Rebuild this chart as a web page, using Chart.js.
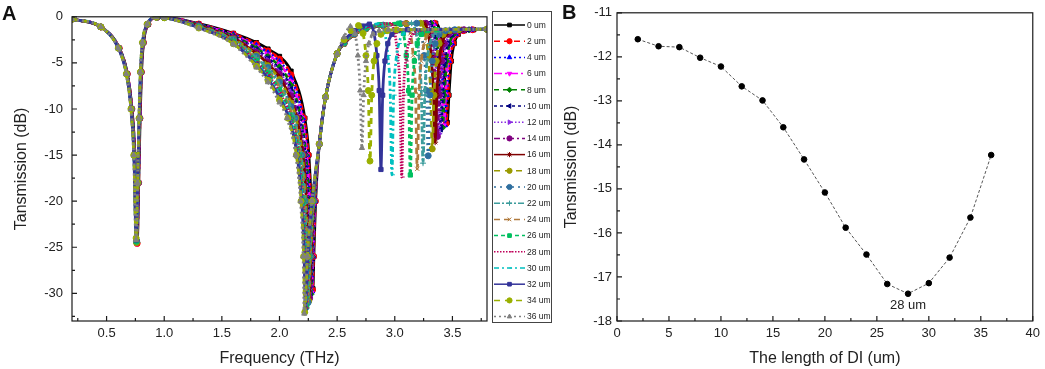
<!DOCTYPE html>
<html>
<head>
<meta charset="utf-8">
<script src="https://cdn.jsdelivr.net/npm/chart.js@4/dist/chart.umd.min.js"></script>
<style>
  html, body { margin: 0; padding: 0; background: #fff; }
  #wrap { position: relative; width: 1045px; height: 369px; overflow: hidden; }
  #boxA { position: absolute; left: 0; top: 0; }
  #boxB { position: absolute; left: 556px; top: 0; }
</style>
</head>
<body>
<div id="wrap">
  <div id="boxA"><canvas id="chartA" width="556" height="369"></canvas></div>
  <div id="boxB"><canvas id="chartB" width="489" height="369"></canvas></div>
</div>
<script>
// ── Panel A: transmission spectra, one curve per DI length ────
// each curve is [frequency THz, transmission dB]
const LENGTHS_UM = [0, 2, 4, 6, 8, 10, 12, 14, 16, 18, 20, 22, 24, 26, 28, 30, 32, 34, 36];

const um0 = [[0.2,-0.25],[0.45,-1.1],[0.611,-3.4],[0.681,-6.2],[0.721,-10],[0.746,-15],[0.766,-24.4],[0.779,-18],[0.791,-11],[0.803,-6],[0.821,-2.8],[0.861,-0.8],[0.941,-0.05],
  [1.0,-0.05],[1.3,-0.75],[1.6,-1.8],[1.8,-2.8],[1.9,-3.5],[2.0,-4.3],[2.1,-5.9],[2.22,-11],[2.255,-15],[2.274,-20],[2.285,-26],[2.29,-29.5],[2.298,-26],[2.313,-20],[2.345,-13.8],[2.4,-8.7],[2.5,-4.0],
  [2.56,-2.9],[2.65,-1.9],[2.75,-1.3],[2.9,-0.95],[3.1,-0.75],[3.355,-0.7],
  [3.395,-1.8],[3.42,-4.2],[3.44,-8],[3.455,-11.45],[3.47,-8.5],[3.49,-4.8],[3.515,-2.9],[3.55,-1.9],[3.605,-1.5],[3.685,-1.4],[3.8,-1.35]];
const um2 = [[0.2,-0.25],[0.45,-1.1],[0.61,-3.4],[0.68,-6.2],[0.72,-10],[0.745,-15],[0.765,-24.6],[0.778,-18],[0.79,-11],[0.802,-6],[0.82,-2.8],[0.86,-0.8],[0.94,-0.05],
  [1.0,-0.06],[1.3,-0.78],[1.6,-1.87],[1.8,-2.95],[1.9,-3.7],[2.0,-4.58],[2.1,-6.29],[2.211,-11],[2.249,-15],[2.269,-20],[2.281,-26],[2.286,-29.65],[2.295,-26],[2.311,-20],[2.345,-13.8],[2.4,-8.7],[2.5,-4.0],
  [2.56,-2.9],[2.65,-1.9],[2.75,-1.3],[2.9,-0.95],[3.1,-0.75],[3.345,-0.7],
  [3.385,-1.8],[3.41,-4.2],[3.43,-8],[3.445,-11.6],[3.46,-8.5],[3.48,-4.8],[3.505,-2.9],[3.54,-1.9],[3.595,-1.5],[3.675,-1.4],[3.8,-1.35]];
const um4 = [[0.2,-0.25],[0.45,-1.1],[0.609,-3.4],[0.679,-6.2],[0.719,-10],[0.744,-15],[0.764,-24.3],[0.777,-18],[0.789,-11],[0.801,-6],[0.819,-2.8],[0.859,-0.8],[0.939,-0.05],
  [1.0,-0.06],[1.3,-0.81],[1.6,-1.93],[1.8,-3.1],[1.9,-3.9],[2.0,-4.86],[2.1,-6.67],[2.203,-11],[2.242,-15],[2.264,-20],[2.276,-26],[2.282,-29.8],[2.292,-26],[2.309,-20],[2.345,-13.8],[2.4,-8.7],[2.5,-4.0],
  [2.56,-2.9],[2.65,-1.9],[2.75,-1.3],[2.9,-0.95],[3.1,-0.75],[3.335,-0.7],
  [3.375,-1.8],[3.4,-4.2],[3.42,-8],[3.435,-11.76],[3.45,-8.5],[3.47,-4.8],[3.495,-2.9],[3.53,-1.9],[3.585,-1.5],[3.665,-1.4],[3.8,-1.35]];
const um6 = [[0.2,-0.25],[0.45,-1.1],[0.608,-3.4],[0.678,-6.2],[0.718,-10],[0.743,-15],[0.763,-24.6],[0.776,-18],[0.788,-11],[0.8,-6],[0.818,-2.8],[0.858,-0.8],[0.938,-0.05],
  [1.0,-0.07],[1.3,-0.83],[1.6,-2.0],[1.8,-3.25],[1.9,-4.1],[2.0,-5.14],[2.1,-7.05],[2.194,-11],[2.236,-15],[2.259,-20],[2.272,-26],[2.277,-29.95],[2.288,-26],[2.307,-20],[2.345,-13.8],[2.4,-8.7],[2.5,-4.0],
  [2.56,-2.9],[2.65,-1.9],[2.75,-1.3],[2.9,-0.95],[3.1,-0.75],[3.325,-0.7],
  [3.365,-1.8],[3.39,-4.2],[3.41,-8],[3.425,-11.78],[3.44,-8.5],[3.46,-4.8],[3.485,-2.9],[3.52,-1.9],[3.575,-1.5],[3.655,-1.4],[3.8,-1.35]];
const um8 = [[0.2,-0.25],[0.45,-1.1],[0.608,-3.4],[0.678,-6.2],[0.718,-10],[0.743,-15],[0.763,-24.5],[0.776,-18],[0.788,-11],[0.8,-6],[0.818,-2.8],[0.858,-0.8],[0.938,-0.05],
  [1.0,-0.07],[1.3,-0.86],[1.6,-2.07],[1.8,-3.4],[1.9,-4.3],[2.0,-5.41],[2.1,-7.43],[2.186,-11],[2.229,-15],[2.254,-20],[2.267,-26],[2.273,-30.1],[2.285,-26],[2.306,-20],[2.345,-13.8],[2.4,-8.7],[2.5,-4.0],
  [2.56,-2.9],[2.65,-1.9],[2.75,-1.3],[2.9,-0.95],[3.1,-0.75],[3.315,-0.7],
  [3.355,-1.8],[3.38,-4.2],[3.4,-8],[3.415,-12.02],[3.43,-8.5],[3.45,-4.8],[3.475,-2.9],[3.51,-1.9],[3.565,-1.5],[3.645,-1.4],[3.8,-1.35]];
const um10 = [[0.2,-0.25],[0.45,-1.1],[0.607,-3.4],[0.677,-6.2],[0.717,-10],[0.742,-15],[0.762,-24.3],[0.775,-18],[0.787,-11],[0.799,-6],[0.817,-2.8],[0.857,-0.8],[0.937,-0.05],
  [1.0,-0.07],[1.3,-0.89],[1.6,-2.13],[1.8,-3.55],[1.9,-4.5],[2.0,-5.69],[2.1,-7.82],[2.177,-11],[2.223,-15],[2.248,-20],[2.263,-26],[2.269,-30.25],[2.282,-26],[2.304,-20],[2.345,-13.8],[2.4,-8.7],[2.5,-4.0],
  [2.56,-2.9],[2.65,-1.9],[2.75,-1.3],[2.9,-0.95],[3.1,-0.75],[3.3,-0.7],
  [3.34,-1.8],[3.365,-4.2],[3.385,-8],[3.4,-12.22],[3.415,-8.5],[3.435,-4.8],[3.46,-2.9],[3.495,-1.9],[3.55,-1.5],[3.63,-1.4],[3.8,-1.35]];
const um12 = [[0.2,-0.25],[0.45,-1.1],[0.607,-3.4],[0.677,-6.2],[0.717,-10],[0.742,-15],[0.762,-24.5],[0.775,-18],[0.787,-11],[0.799,-6],[0.817,-2.8],[0.857,-0.8],[0.937,-0.05],
  [1.0,-0.08],[1.3,-0.92],[1.6,-2.2],[1.8,-3.7],[1.9,-4.7],[2.0,-5.97],[2.1,-8.2],[2.168,-11],[2.217,-15],[2.243,-20],[2.258,-26],[2.265,-30.4],[2.279,-26],[2.302,-20],[2.345,-13.8],[2.4,-8.7],[2.5,-4.0],
  [2.56,-2.9],[2.65,-1.9],[2.75,-1.3],[2.9,-0.95],[3.1,-0.75],[3.285,-0.7],
  [3.325,-1.8],[3.35,-4.2],[3.37,-8],[3.385,-12.67],[3.4,-8.5],[3.42,-4.8],[3.445,-2.9],[3.48,-1.9],[3.535,-1.5],[3.615,-1.4],[3.8,-1.35]];
const um14 = [[0.2,-0.25],[0.45,-1.1],[0.606,-3.4],[0.676,-6.2],[0.716,-10],[0.741,-15],[0.761,-24.4],[0.774,-18],[0.786,-11],[0.798,-6],[0.816,-2.8],[0.856,-0.8],[0.936,-0.05],
  [1.0,-0.08],[1.3,-0.94],[1.6,-2.27],[1.8,-3.85],[1.9,-4.9],[2.0,-6.24],[2.1,-8.58],[2.16,-11],[2.21,-15],[2.238,-20],[2.254,-26],[2.261,-30.55],[2.275,-26],[2.3,-20],[2.345,-13.8],[2.4,-8.7],[2.5,-4.0],
  [2.56,-2.9],[2.65,-1.9],[2.75,-1.3],[2.9,-0.95],[3.1,-0.75],[3.27,-0.7],
  [3.31,-1.8],[3.335,-4.2],[3.355,-8],[3.37,-12.99],[3.385,-8.5],[3.405,-4.8],[3.43,-2.9],[3.465,-1.9],[3.52,-1.5],[3.6,-1.4],[3.8,-1.35]];
const um16 = [[0.2,-0.25],[0.45,-1.1],[0.606,-3.4],[0.676,-6.2],[0.716,-10],[0.741,-15],[0.761,-24.2],[0.774,-18],[0.786,-11],[0.798,-6],[0.816,-2.8],[0.856,-0.8],[0.936,-0.05],
  [1.0,-0.08],[1.3,-0.97],[1.6,-2.33],[1.8,-4.0],[1.9,-5.1],[2.0,-6.52],[2.1,-8.97],[2.151,-11],[2.204,-15],[2.233,-20],[2.249,-26],[2.257,-30.7],[2.272,-26],[2.298,-20],[2.345,-13.8],[2.4,-8.7],[2.5,-4.0],
  [2.56,-2.9],[2.65,-1.9],[2.75,-1.3],[2.9,-0.95],[3.1,-0.75],[3.25,-0.7],
  [3.29,-1.8],[3.315,-4.2],[3.335,-8],[3.35,-13.6],[3.365,-8.5],[3.385,-4.8],[3.41,-2.9],[3.445,-1.9],[3.5,-1.5],[3.58,-1.4],[3.8,-1.35]];
const um18 = [[0.2,-0.25],[0.45,-1.1],[0.605,-3.4],[0.675,-6.2],[0.715,-10],[0.74,-15],[0.76,-24.5],[0.773,-18],[0.785,-11],[0.797,-6],[0.815,-2.8],[0.855,-0.8],[0.935,-0.05],
  [1.0,-0.09],[1.3,-1.0],[1.6,-2.4],[1.8,-4.15],[1.9,-5.3],[2.0,-6.8],[2.1,-9.35],[2.143,-11],[2.198,-15],[2.228,-20],[2.245,-26],[2.253,-30.85],[2.269,-26],[2.297,-20],[2.345,-13.8],[2.4,-8.7],[2.5,-4.0],
  [2.56,-2.9],[2.65,-1.9],[2.75,-1.3],[2.9,-0.95],[3.1,-0.75],[3.225,-0.7],
  [3.265,-1.8],[3.29,-4.2],[3.31,-8],[3.325,-14.33],[3.34,-8.5],[3.36,-4.8],[3.385,-2.9],[3.42,-1.9],[3.475,-1.5],[3.555,-1.4],[3.8,-1.35]];
const um20 = [[0.2,-0.25],[0.45,-1.1],[0.605,-3.4],[0.675,-6.2],[0.715,-10],[0.74,-15],[0.76,-24.3],[0.773,-18],[0.785,-11],[0.797,-6],[0.815,-2.8],[0.855,-0.8],[0.935,-0.05],
  [1.0,-0.09],[1.3,-1.03],[1.6,-2.47],[1.8,-4.3],[1.9,-5.5],[2.0,-7.08],[2.1,-9.74],[2.134,-11],[2.191,-15],[2.223,-20],[2.241,-26],[2.248,-31.0],[2.266,-26],[2.295,-20],[2.345,-13.8],[2.4,-8.7],[2.5,-4.0],
  [2.56,-2.85],[2.65,-1.85],[2.75,-1.25],[2.9,-0.9],[3.05,-0.75],[3.19,-0.7],
  [3.23,-1.8],[3.255,-4.2],[3.275,-8],[3.29,-15.08],[3.305,-8.5],[3.325,-4.8],[3.35,-2.9],[3.385,-1.9],[3.44,-1.5],[3.52,-1.4],[3.8,-1.35]];
const um22 = [[0.2,-0.25],[0.45,-1.1],[0.604,-3.4],[0.674,-6.2],[0.714,-10],[0.739,-15],[0.759,-24.4],[0.772,-18],[0.784,-11],[0.796,-6],[0.814,-2.8],[0.854,-0.8],[0.934,-0.05],
  [1.0,-0.09],[1.3,-1.06],[1.6,-2.53],[1.8,-4.45],[1.9,-5.7],[2.0,-7.36],[2.125,-11],[2.185,-15],[2.218,-20],[2.236,-26],[2.244,-31.15],[2.263,-26],[2.293,-20],[2.345,-13.8],[2.4,-8.7],[2.5,-4.0],
  [2.56,-2.85],[2.65,-1.8],[2.75,-1.25],[2.9,-0.9],[3.145,-0.7],
  [3.185,-1.8],[3.21,-4.2],[3.23,-8],[3.245,-15.88],[3.26,-8.5],[3.28,-4.8],[3.305,-2.9],[3.34,-1.9],[3.395,-1.5],[3.475,-1.4],[3.8,-1.35]];
const um24 = [[0.2,-0.25],[0.45,-1.1],[0.604,-3.4],[0.674,-6.2],[0.714,-10],[0.739,-15],[0.759,-24.2],[0.772,-18],[0.784,-11],[0.796,-6],[0.814,-2.8],[0.854,-0.8],[0.934,-0.05],
  [1.0,-0.09],[1.3,-1.08],[1.6,-2.6],[1.8,-4.6],[1.9,-5.9],[2.0,-7.63],[2.117,-11],[2.178,-15],[2.213,-20],[2.232,-26],[2.24,-31.3],[2.259,-26],[2.291,-20],[2.345,-13.8],[2.4,-8.7],[2.5,-4.0],
  [2.56,-2.8],[2.65,-1.8],[2.75,-1.2],[2.9,-0.85],[3.095,-0.7],
  [3.135,-1.8],[3.16,-4.2],[3.18,-8],[3.195,-16.49],[3.21,-8.5],[3.23,-4.8],[3.255,-2.9],[3.29,-1.9],[3.345,-1.5],[3.425,-1.4],[3.8,-1.35]];
const um26 = [[0.2,-0.25],[0.45,-1.1],[0.603,-3.4],[0.673,-6.2],[0.713,-10],[0.738,-15],[0.758,-24.4],[0.771,-18],[0.783,-11],[0.795,-6],[0.813,-2.8],[0.853,-0.8],[0.933,-0.05],
  [1.0,-0.1],[1.3,-1.11],[1.6,-2.67],[1.8,-4.75],[1.9,-6.1],[2.0,-7.91],[2.108,-11],[2.172,-15],[2.208,-20],[2.227,-26],[2.236,-31.45],[2.256,-26],[2.289,-20],[2.345,-13.8],[2.4,-8.7],[2.5,-4.0],
  [2.56,-2.8],[2.65,-1.75],[2.75,-1.2],[2.87,-0.85],[3.035,-0.7],
  [3.075,-1.8],[3.1,-4.2],[3.12,-8],[3.135,-17.16],[3.15,-8.5],[3.17,-4.8],[3.195,-2.9],[3.23,-1.9],[3.285,-1.5],[3.365,-1.4],[3.8,-1.35]];
const um28 = [[0.2,-0.25],[0.45,-1.1],[0.603,-3.4],[0.673,-6.2],[0.713,-10],[0.738,-15],[0.758,-24.3],[0.771,-18],[0.783,-11],[0.795,-6],[0.813,-2.8],[0.853,-0.8],[0.933,-0.05],
  [1.0,-0.1],[1.3,-1.14],[1.6,-2.73],[1.8,-4.9],[1.9,-6.3],[2.0,-8.19],[2.099,-11],[2.166,-15],[2.202,-20],[2.223,-26],[2.232,-31.6],[2.253,-26],[2.287,-20],[2.345,-13.8],[2.4,-8.7],[2.5,-4.0],
  [2.56,-2.75],[2.65,-1.7],[2.75,-1.15],[2.85,-0.85],[2.96,-0.72],
  [3.0,-1.8],[3.025,-4.2],[3.045,-8],[3.06,-17.38],[3.075,-8.5],[3.095,-4.8],[3.12,-2.9],[3.155,-1.9],[3.21,-1.5],[3.29,-1.4],[3.8,-1.35]];
const um30 = [[0.2,-0.25],[0.45,-1.1],[0.602,-3.4],[0.672,-6.2],[0.712,-10],[0.737,-15],[0.757,-24.1],[0.77,-18],[0.782,-11],[0.794,-6],[0.812,-2.8],[0.852,-0.8],[0.932,-0.05],
  [1.0,-0.1],[1.3,-1.17],[1.6,-2.8],[1.8,-5.05],[1.9,-6.5],[2.0,-8.47],[2.091,-11],[2.159,-15],[2.197,-20],[2.218,-26],[2.228,-31.75],[2.25,-26],[2.285,-20],[2.345,-13.8],[2.4,-8.7],[2.5,-4.0],
  [2.56,-2.7],[2.65,-1.6],[2.75,-1.05],[2.875,-0.75],
  [2.915,-1.8],[2.94,-4.2],[2.96,-8],[2.975,-17.14],[2.99,-8.5],[3.01,-4.8],[3.035,-2.9],[3.07,-1.9],[3.125,-1.5],[3.205,-1.4],[3.8,-1.35]];
const um32 = [[0.2,-0.25],[0.45,-1.1],[0.602,-3.4],[0.672,-6.2],[0.712,-10],[0.737,-15],[0.757,-24.2],[0.77,-18],[0.782,-11],[0.794,-6],[0.812,-2.8],[0.852,-0.8],[0.932,-0.05],
  [1.0,-0.1],[1.3,-1.19],[1.6,-2.87],[1.8,-5.2],[1.9,-6.7],[2.0,-8.74],[2.082,-11],[2.153,-15],[2.192,-20],[2.214,-26],[2.223,-31.9],[2.246,-26],[2.284,-20],[2.345,-13.8],[2.4,-8.7],[2.5,-4.0],
  [2.56,-2.6],[2.65,-1.5],[2.72,-1.0],[2.78,-0.8],
  [2.82,-1.8],[2.845,-4.2],[2.865,-8],[2.88,-16.56],[2.895,-8.5],[2.915,-4.8],[2.94,-2.9],[2.975,-1.9],[3.03,-1.5],[3.11,-1.4],[3.8,-1.35]];
const um34 = [[0.2,-0.25],[0.45,-1.1],[0.601,-3.4],[0.671,-6.2],[0.711,-10],[0.736,-15],[0.756,-24.0],[0.769,-18],[0.781,-11],[0.793,-6],[0.811,-2.8],[0.851,-0.8],[0.931,-0.05],
  [1.0,-0.1],[1.3,-1.22],[1.6,-2.93],[1.8,-5.35],[1.9,-6.9],[2.0,-9.02],[2.074,-11],[2.146,-15],[2.187,-20],[2.209,-26],[2.219,-32.05],[2.243,-26],[2.282,-20],[2.345,-13.8],[2.4,-8.7],[2.5,-4.0],
  [2.56,-2.5],[2.62,-1.5],[2.685,-0.95],
  [2.725,-1.8],[2.75,-4.2],[2.77,-8],[2.785,-15.65],[2.8,-8.5],[2.82,-4.8],[2.845,-2.9],[2.88,-1.9],[2.935,-1.5],[3.015,-1.4],[3.8,-1.35]];
const um36 = [[0.2,-0.25],[0.45,-1.1],[0.6,-3.4],[0.67,-6.2],[0.71,-10],[0.735,-15],[0.755,-24.2],[0.768,-18],[0.78,-11],[0.792,-6],[0.81,-2.8],[0.85,-0.8],[0.93,-0.05],
  [1.0,-0.1],[1.3,-1.25],[1.6,-3.0],[1.8,-5.5],[1.9,-7.1],[2.0,-9.3],[2.065,-11],[2.14,-15],[2.182,-20],[2.205,-26],[2.215,-32.2],[2.24,-26],[2.28,-20],[2.345,-13.8],[2.4,-8.7],[2.5,-4.0],
  [2.56,-2.2],[2.615,-1.05],
  [2.655,-1.8],[2.68,-4.2],[2.7,-8],[2.715,-14.23],[2.73,-8.5],[2.75,-4.8],[2.775,-2.9],[2.81,-1.9],[2.865,-1.5],[2.945,-1.4],[3.8,-1.35]];

const SPECTRA = [um0, um2, um4, um6, um8, um10, um12, um14, um16, um18,
                 um20, um22, um24, um26, um28, um30, um32, um34, um36];

// Origin-style colour / dash / symbol cycle
const SERIES_COLORS = ["#000000", "#ff0000", "#0000ff", "#ff00ff", "#008000", "#000080",
                       "#8a2be2", "#800080", "#800000", "#9a9a00", "#2f6f9f", "#3c9c9c",
                       "#b07a3c", "#00c060", "#c0005a", "#00c0c0", "#333399", "#9ab000", "#808080"];
const SERIES_DASH = [[], [6, 4], [2, 3], [8, 3, 2, 3], [5, 4], [3, 3], [1.5, 2], [6, 3, 2, 3], [],
                     [6, 5], [2, 4], [6, 2, 2, 2], [6, 4], [4, 3], [1.5, 1.5], [5, 3, 2, 3], [], [6, 5], [2, 3]];
const SERIES_MARKERS = ["rect", "circle", "triangle", "triangle", "rectRot", "triangle", "triangle",
                        "circle", "star", "circle", "circle", "cross", "crossRot", "rect", "dash",
                        "dash", "rect", "circle", "triangle"];
const SERIES_ROT = [0, 0, 0, 180, 0, -90, 90, 0, 0, 0, 0, 0, 0, 0, 0, 0, 0, 0, 0];

const A_X_TICKS = [0.5, 1.0, 1.5, 2.0, 2.5, 3.0, 3.5];
const A_X_MINOR = [0.25, 0.75, 1.25, 1.75, 2.25, 2.75, 3.25, 3.75];
const A_Y_TICKS = [0, -5, -10, -15, -20, -25, -30];
const A_Y_MINOR = [-2.5, -7.5, -12.5, -17.5, -22.5, -27.5, -32.5];

// ── Panel B: dip depth vs DI length ───────────────────────────
const DI_LENGTH = [2, 4, 6, 8, 10, 12, 14, 16, 18, 20, 22, 24, 26, 28, 30, 32, 34, 36];
const DIP_DB = [-11.6, -11.76, -11.78, -12.02, -12.22, -12.67, -12.99, -13.6, -14.33,
                -15.08, -15.88, -16.49, -17.16, -17.38, -17.14, -16.56, -15.65, -14.23];
const NOTE_AT_UM = 28;

const B_X_MINOR = [2.5, 7.5, 12.5, 17.5, 22.5, 27.5, 32.5, 37.5];
const B_Y_MINOR = [-11.5, -12.5, -13.5, -14.5, -15.5, -16.5, -17.5];

const FONT = "'Liberation Sans', Arial, sans-serif";
Chart.defaults.font.family = FONT;
Chart.defaults.color = "#222";

// ── Decorations: frame, inward ticks, panel letter, legend ────
function drawMarker(ctx, style, rotation, x, y, r) {
  if (Chart.helpers && Chart.helpers.drawPoint) {
    Chart.helpers.drawPoint(ctx, { pointStyle: style, rotation, radius: r, borderWidth: 1 }, x, y);
  } else {
    ctx.beginPath(); ctx.arc(x, y, r, 0, Math.PI * 2); ctx.fill();
  }
}

function drawLegend(chart) {
  const { ctx } = chart;
  const box = { left: 492, top: 11, width: 59, height: 311 };
  ctx.strokeStyle = "#444";
  ctx.lineWidth = 1;
  ctx.setLineDash([]);
  ctx.strokeRect(box.left + 0.5, box.top + 0.5, box.width, box.height);
  ctx.font = "8.5px " + FONT;
  ctx.textAlign = "left";
  ctx.textBaseline = "middle";
  chart.data.datasets.forEach((d, i) => {
    const y = box.top + 14 + i * 16.2;
    ctx.strokeStyle = d.borderColor;
    ctx.lineWidth = 1.5;
    ctx.setLineDash(d.borderDash);
    ctx.beginPath();
    ctx.moveTo(box.left + 2, y);
    ctx.lineTo(box.left + 33, y);
    ctx.stroke();
    ctx.setLineDash([]);
    ctx.fillStyle = d.borderColor;
    ctx.lineWidth = 1;
    drawMarker(ctx, d.pointStyle, d.pointRotation, box.left + 17.5, y, 2.6);
    ctx.fillStyle = "#222";
    ctx.fillText(d.label, box.left + 35, y + 0.5);
  });
}

const decor = {
  id: "decor",
  afterDraw(chart, args, o) {
    const { ctx, chartArea: a } = chart;
    const xs = chart.scales.x, ys = chart.scales.y;
    ctx.save();
    ctx.strokeStyle = "#1b1b1b";
    ctx.lineWidth = 1.2;
    ctx.setLineDash([]);
    ctx.strokeRect(a.left, a.top, a.right - a.left, a.bottom - a.top);

    ctx.beginPath();
    const tickX = (v, len) => { const p = xs.getPixelForValue(v); ctx.moveTo(p, a.bottom); ctx.lineTo(p, a.bottom - len); };
    const tickY = (v, len) => { const p = ys.getPixelForValue(v); ctx.moveTo(a.left, p); ctx.lineTo(a.left + len, p); };
    xs.ticks.forEach((t) => tickX(t.value, 5));
    o.minorX.forEach((v) => tickX(v, 3));
    ys.ticks.forEach((t) => tickY(t.value, 5));
    o.minorY.forEach((v) => tickY(v, 3));
    ctx.stroke();

    ctx.fillStyle = "#111";
    ctx.font = "bold 20px " + FONT;
    ctx.textAlign = "left";
    ctx.textBaseline = "alphabetic";
    ctx.fillText(o.letter, o.letterX, o.letterY);

    if (o.note) {
      ctx.font = "13px " + FONT;
      ctx.fillStyle = "#222";
      ctx.textAlign = "center";
      ctx.textBaseline = "middle";
      ctx.fillText(o.note.text, xs.getPixelForValue(o.note.x), ys.getPixelForValue(o.note.y) + 12);
    }
    if (o.legend) drawLegend(chart);
    ctx.restore();
  },
};

// ── Chart A ───────────────────────────────────────────────────
new Chart(document.getElementById("chartA"), {
  type: "line",
  data: {
    datasets: SPECTRA.map((pts, i) => ({
      label: LENGTHS_UM[i] + " um",
      data: pts,
      order: SPECTRA.length - 1 - i,
      borderColor: SERIES_COLORS[i],
      backgroundColor: SERIES_COLORS[i],
      borderDash: SERIES_DASH[i],
      borderWidth: 2.8,
      pointStyle: SERIES_MARKERS[i],
      pointRotation: SERIES_ROT[i],
      pointRadius: 3,
      pointBorderWidth: 1,
      pointBackgroundColor: SERIES_COLORS[i],
      pointBorderColor: SERIES_COLORS[i],
      cubicInterpolationMode: "monotone",
      fill: false,
    })),
  },
  options: {
    responsive: false,
    animation: false,
    events: [],
    layout: { padding: { left: 0, top: 11, right: 69, bottom: 0 } },
    plugins: {
      legend: { display: false },
      tooltip: { enabled: false },
      decor: { letter: "A", letterX: 2, letterY: 20, minorX: A_X_MINOR, minorY: A_Y_MINOR, legend: true },
    },
    scales: {
      x: {
        type: "linear", min: 0.2, max: 3.8,
        afterBuildTicks: (s) => { s.ticks = A_X_TICKS.map((v) => ({ value: v })); },
        afterFit: (s) => { s.height = 48; },
        grid: { display: false, drawTicks: false },
        border: { display: false },
        ticks: { font: { size: 13 }, color: "#222", padding: 5, callback: (v) => Number(v).toFixed(1) },
        title: { display: true, text: "Frequency (THz)", font: { size: 16 }, color: "#222", padding: { top: 0, bottom: 1 } },
      },
      y: {
        type: "linear", min: -33, max: 0,
        afterBuildTicks: (s) => { s.ticks = A_Y_TICKS.map((v) => ({ value: v })); },
        afterFit: (s) => { s.width = 72; },
        grid: { display: false, drawTicks: false },
        border: { display: false },
        ticks: { font: { size: 13 }, color: "#222", padding: 9, callback: (v) => String(v) },
        title: { display: true, text: "Tansmission (dB)", font: { size: 16 }, color: "#222", padding: { top: 12, bottom: 0 } },
      },
    },
  },
  plugins: [decor],
});

// ── Chart B ───────────────────────────────────────────────────
new Chart(document.getElementById("chartB"), {
  type: "line",
  data: {
    datasets: [{
      label: "Dip transmission",
      data: DI_LENGTH.map((x, i) => ({ x, y: DIP_DB[i] })),
      borderColor: "#555",
      borderWidth: 1,
      borderDash: [3, 2],
      pointStyle: "circle",
      pointRadius: 2.8,
      pointBackgroundColor: "#000",
      pointBorderColor: "#000",
      tension: 0,
      fill: false,
    }],
  },
  options: {
    responsive: false,
    animation: false,
    events: [],
    layout: { padding: { left: 0, top: 11, right: 11, bottom: 0 } },
    plugins: {
      legend: { display: false },
      tooltip: { enabled: false },
      decor: {
        letter: "B", letterX: 6, letterY: 18.5, minorX: B_X_MINOR, minorY: B_Y_MINOR, legend: false,
        note: { x: NOTE_AT_UM, y: DIP_DB[DI_LENGTH.indexOf(NOTE_AT_UM)], text: NOTE_AT_UM + " um" },
      },
    },
    scales: {
      x: {
        type: "linear", min: 0, max: 40,
        afterFit: (s) => { s.height = 48; },
        grid: { display: false, drawTicks: false },
        border: { display: false },
        ticks: { stepSize: 5, font: { size: 13 }, color: "#222", padding: 5 },
        title: { display: true, text: "The length of DI (um)", font: { size: 16 }, color: "#222", padding: { top: 0, bottom: 1 } },
      },
      y: {
        type: "linear", min: -18, max: -11,
        afterFit: (s) => { s.width = 61; },
        grid: { display: false, drawTicks: false },
        border: { display: false },
        ticks: { stepSize: 1, font: { size: 13 }, color: "#222", padding: 5 },
        title: { display: true, text: "Tansmission (dB)", font: { size: 16 }, color: "#222", padding: { top: 6, bottom: 0 } },
      },
    },
  },
  plugins: [decor],
});
</script>
</body>
</html>
